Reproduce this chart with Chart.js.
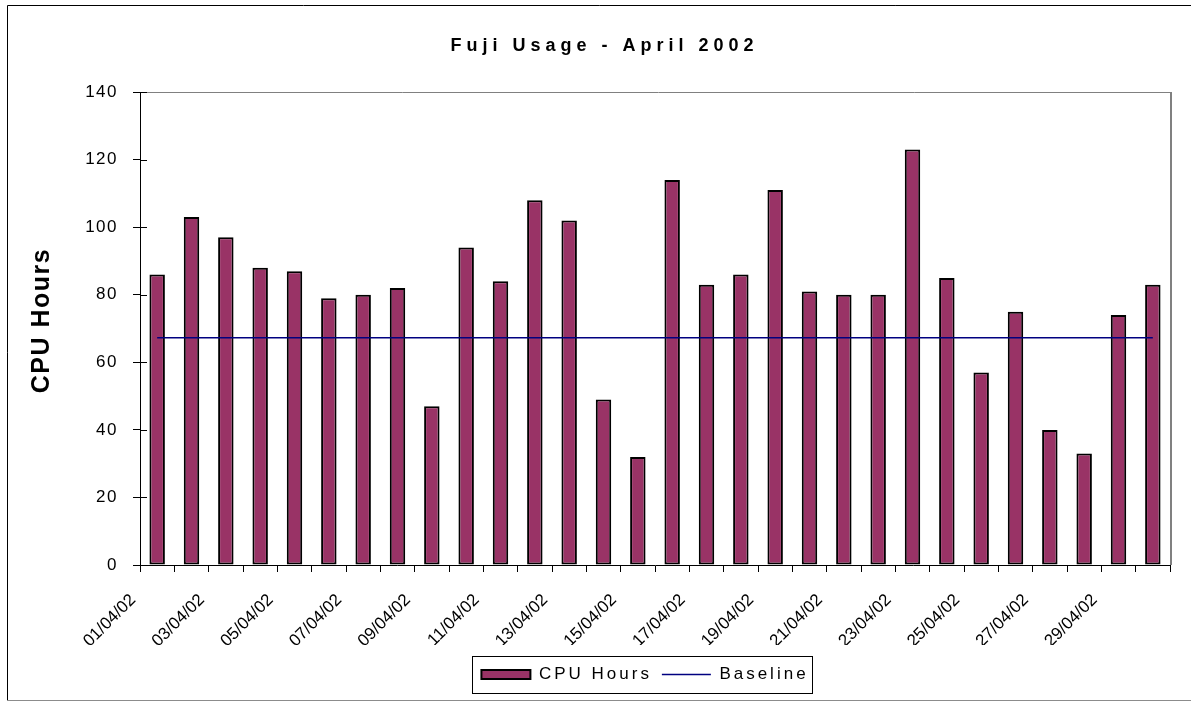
<!DOCTYPE html>
<html>
<head>
<meta charset="utf-8">
<script src="https://cdn.jsdelivr.net/npm/chart.js@4.4.1/dist/chart.umd.min.js"></script>
<style>
html,body{margin:0;padding:0;background:#fff;}
canvas{display:block;}
</style>
</head>
<body>
<canvas id="c" width="1191" height="702"></canvas>
<script>
// ---- data ----
const chartTitle = 'Fuji Usage - April 2002';
const yAxisTitle = 'CPU Hours';
const seriesNames = ['CPU Hours', 'Baseline'];
const categories = ['01/04/02','02/04/02','03/04/02','04/04/02','05/04/02','06/04/02','07/04/02','08/04/02','09/04/02','10/04/02',
  '11/04/02','12/04/02','13/04/02','14/04/02','15/04/02','16/04/02','17/04/02','18/04/02','19/04/02','20/04/02',
  '21/04/02','22/04/02','23/04/02','24/04/02','25/04/02','26/04/02','27/04/02','28/04/02','29/04/02','30/04/02'];
const cpuHours = [86,103,97,88,87,79,80,82,47,94,84,108,102,49,32,114,83,86,111,81,80,80,123,85,57,75,40,33,74,83];
const baseline = [67.3,67.3,67.3,67.3,67.3,67.3,67.3,67.3,67.3,67.3,67.3,67.3,67.3,67.3,67.3,
  67.3,67.3,67.3,67.3,67.3,67.3,67.3,67.3,67.3,67.3,67.3,67.3,67.3,67.3,67.3];
const yTickValues = [0,20,40,60,80,100,120,140];

// ---- helpers ----
const FONT = "'Liberation Sans', Arial, Helvetica, sans-serif";
function spaced(obj, method, sp, dy) {
  if (!obj || typeof obj[method] !== 'function' || obj[method]._sp) return;
  const orig = obj[method];
  const f = function(...a) {
    const c = this.ctx;
    c.save();
    if (dy) c.translate(0, dy);
    const prev = c.letterSpacing;
    c.letterSpacing = sp;
    const r = orig.apply(this, a);
    c.letterSpacing = prev || '0px';
    c.restore();
    return r;
  };
  f._sp = true;
  obj[method] = f;
}

const decor = {
  id: 'decor',
  afterInit(chart) {
    spaced(chart.titleBlock, 'draw', '5px');
    spaced(chart.legend, 'fit', '3px');
    spaced(chart.legend, 'draw', '3px');
  },
  afterLayout(chart) {
    const a = chart.chartArea;
    const t = chart.titleBlock;
    t.left += 16; t.right += 16;
    const L = chart.legend;
    const h = L.bottom - L.top;
    const cx = (a.left + a.right) / 2 - 10;
    L.left = cx - 320; L.right = cx + 320; L.width = 640;
    L.top = a.bottom + 91; L.bottom = L.top + h;
  },
  beforeDraw(chart) {
    const y = chart.scales.y;
    spaced(y, 'drawLabels', '1.5px');
    spaced(y, 'drawTitle', '1.5px', -8);
  },
  beforeDatasetsDraw(chart) {
    const {ctx, chartArea: a} = chart;
    ctx.save();
    ctx.strokeStyle = '#808080';
    ctx.lineWidth = 1;
    ctx.beginPath();
    ctx.moveTo(a.left + 7, Math.round(a.top) + 0.5);
    ctx.lineTo(a.right, Math.round(a.top) + 0.5);
    ctx.stroke();
    ctx.lineWidth = 2;
    ctx.beginPath();
    ctx.moveTo(Math.round(a.right) + 1, a.top);
    ctx.lineTo(Math.round(a.right) + 1, a.bottom);
    ctx.stroke();
    // inner tick marks on y axis
    const ys = chart.scales.y;
    ctx.strokeStyle = '#000';
    ctx.lineWidth = 1;
    ys.ticks.forEach(t => {
      const py = Math.round(ys.getPixelForValue(t.value)) + 0.5;
      ctx.beginPath();
      ctx.moveTo(a.left, py);
      ctx.lineTo(a.left + 7, py);
      ctx.stroke();
    });
    ctx.restore();
  },
  afterDraw(chart) {
    const {ctx, width, height} = chart;
    ctx.save();
    // outer frame
    ctx.strokeStyle = '#000';
    ctx.lineWidth = 1;
    ctx.beginPath();
    ctx.moveTo(7.5, height - 2);
    ctx.lineTo(7.5, 5.5);
    ctx.lineTo(width, 5.5);
    ctx.stroke();
    ctx.strokeStyle = '#8c8c8c';
    ctx.beginPath();
    ctx.moveTo(7, height - 1.5);
    ctx.lineTo(width, height - 1.5);
    ctx.stroke();
    // legend frame
    const hb = chart.legend.legendHitBoxes;
    if (hb && hb.length) {
      const f = hb[0], l = hb[hb.length - 1];
      const x0 = Math.round(f.left - 9) + 0.5;
      const x1 = Math.round(l.left + l.width + 3) + 0.5;
      const y0 = Math.round(f.top - 10) + 0.5;
      const y1 = Math.round(f.top + f.height + 10) + 0.5;
      ctx.strokeStyle = '#000';
      ctx.strokeRect(x0, y0, x1 - x0, y1 - y0);
    }
    ctx.restore();
  }
};

Chart.defaults.color = '#000';
Chart.defaults.font.family = FONT;

new Chart(document.getElementById('c'), {
  data: {
    labels: categories,
    datasets: [
      {
        type: 'bar',
        label: seriesNames[0],
        data: cpuHours,
        backgroundColor: '#993366',
        borderColor: '#000',
        borderWidth: 2,
        borderSkipped: false,
        barPercentage: 0.45,
        categoryPercentage: 1.0,
        order: 1
      },
      {
        type: 'line',
        label: seriesNames[1],
        data: baseline,
        borderColor: '#000080',
        backgroundColor: '#000080',
        borderWidth: 1.5,
        pointRadius: 0,
        fill: false,
        order: 0
      }
    ]
  },
  options: {
    responsive: false,
    animation: false,
    devicePixelRatio: 1,
    layout: { padding: { left: 7, right: 21, top: 0, bottom: 20 } },
    plugins: {
      tooltip: { enabled: false },
      title: {
        display: true,
        text: chartTitle,
        color: '#000',
        font: { family: FONT, size: 18, weight: 'bold' },
        padding: { top: 35.5, bottom: 35 }
      },
      legend: {
        display: true,
        position: 'bottom',
        align: 'center',
        labels: {
          color: '#000',
          font: { family: FONT, size: 17 },
          usePointStyle: true,
          pointStyleWidth: 49,
          boxWidth: 49,
          boxHeight: 9,
          padding: 10,
          sort: (a, b) => a.datasetIndex - b.datasetIndex,
          generateLabels(chart) {
            const items = Chart.defaults.plugins.legend.labels.generateLabels(chart);
            items.forEach(it => { it.pointStyle = it.datasetIndex === 0 ? 'rect' : 'line'; });
            return items;
          }
        }
      }
    },
    scales: {
      x: {
        type: 'category',
        offset: true,
        grid: { offset: true, drawOnChartArea: false, drawTicks: true, tickLength: 7, color: '#000' },
        border: { display: true, color: '#000', width: 1 },
        ticks: {
          autoSkip: false,
          minRotation: 45,
          maxRotation: 45,
          labelOffset: -24,
          padding: 18,
          color: '#000',
          font: { family: FONT, size: 17 },
          callback: (v, i) => (i % 2 === 0 ? categories[i] : '')
        },
        afterFit(scale) { scale.height = 80; }
      },
      y: {
        type: 'linear',
        min: 0,
        max: 140,
        grid: { drawOnChartArea: false, drawTicks: true, tickLength: 7, color: '#000' },
        border: { display: true, color: '#000', width: 1 },
        ticks: {
          color: '#000',
          padding: 15,
          font: { family: FONT, size: 17 }
        },
        title: {
          display: true,
          text: yAxisTitle,
          color: '#000',
          font: { family: FONT, size: 25, weight: 'bold' },
          padding: { top: 20, bottom: 0 }
        },
        afterBuildTicks(scale) { scale.ticks = yTickValues.map(v => ({ value: v })); },
        afterFit(scale) { scale.width = 133; }
      }
    }
  },
  plugins: [decor]
});
</script>
</body>
</html>
